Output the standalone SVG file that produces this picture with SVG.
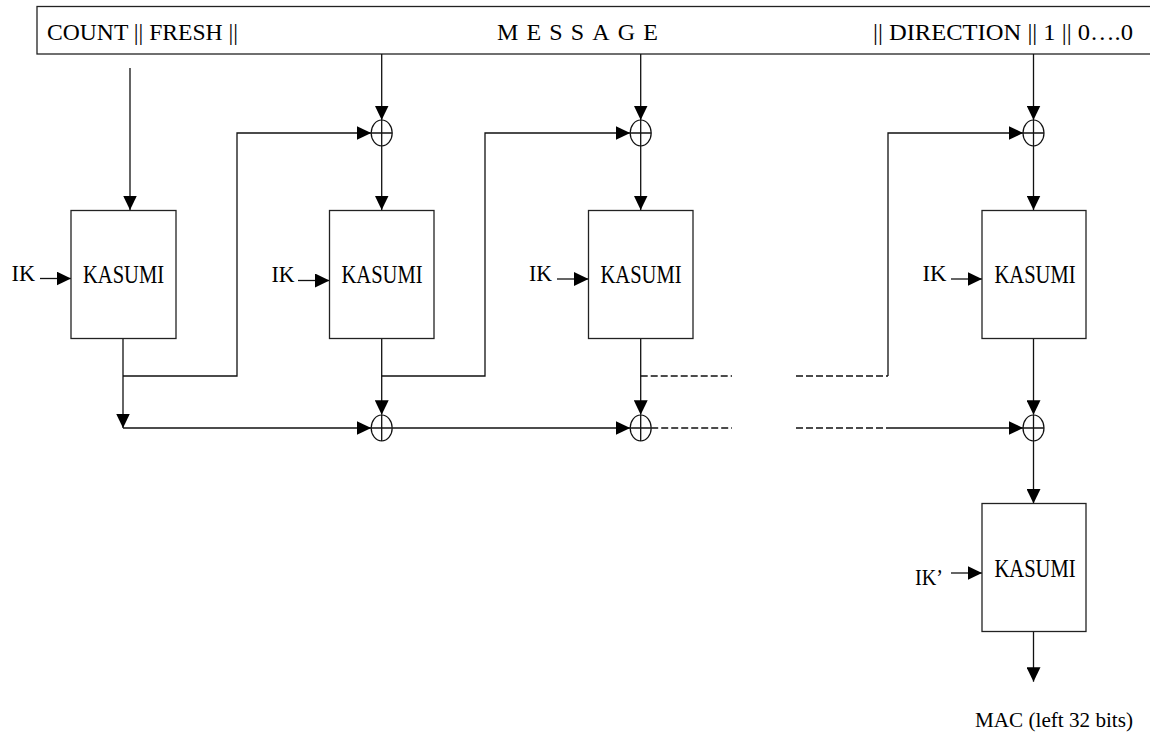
<svg xmlns="http://www.w3.org/2000/svg" width="1150" height="738" viewBox="0 0 1150 738">
<style>
text{font-family:"Liberation Serif","Times New Roman",serif;fill:#000}
.box{fill:#fff;stroke:#222;stroke-width:1.3}
.lbl{font-size:24px}
.k{font-size:25px;text-anchor:middle}
.c{fill:none;stroke:#111;stroke-width:1.3}
.d{fill:none;stroke:#111;stroke-width:1.3;stroke-dasharray:7 3}
.x{fill:#fff;stroke:#111;stroke-width:1.2}
</style>
<defs>
<marker id="ah" markerUnits="userSpaceOnUse" markerWidth="15" markerHeight="14" refX="14.5" refY="7" orient="auto">
<path d="M0,0 L14.5,7 L0,14 z" fill="#000"/>
</marker>
</defs>
<rect width="1150" height="738" fill="#fff"/>
<g id="header">
<rect class="box" x="37" y="6.5" width="1125" height="47.5" fill="#fff"/>
<text class="lbl" x="47" y="40" textLength="191" lengthAdjust="spacingAndGlyphs">COUNT || FRESH ||</text>
<text class="lbl" x="497" y="40" textLength="161" lengthAdjust="spacing">MESSAGE</text>
<text class="lbl" x="873" y="40" textLength="260" lengthAdjust="spacingAndGlyphs">|| DIRECTION || 1 || 0….0</text>
</g>
<g id="connectors">
<path class="c" d="M130,68 V210" marker-end="url(#ah)"/>
<path class="c" d="M381.7,54 V120" marker-end="url(#ah)"/>
<path class="c" d="M640.7,54 V120" marker-end="url(#ah)"/>
<path class="c" d="M1033.5,54 V120" marker-end="url(#ah)"/>
<path class="c" d="M381.7,146 V210" marker-end="url(#ah)"/>
<path class="c" d="M640.7,146 V210" marker-end="url(#ah)"/>
<path class="c" d="M1033.5,146 V210" marker-end="url(#ah)"/>
<path class="c" d="M123,338 V428" marker-end="url(#ah)"/>
<path class="c" d="M123,376 H237 V133 H371.2" marker-end="url(#ah)"/>
<path class="c" d="M123,428 H371.2" marker-end="url(#ah)"/>
<path class="c" d="M381.7,338 V414.7" marker-end="url(#ah)"/>
<path class="c" d="M381.7,376 H485 V133 H630.2" marker-end="url(#ah)"/>
<path class="c" d="M392.2,428 H630.2" marker-end="url(#ah)"/>
<path class="c" d="M640.7,338 V414.7" marker-end="url(#ah)"/>
<path class="d" d="M640.7,376 H732"/>
<path class="d" d="M796,376 H888"/>
<path class="c" d="M888,376 V133 H1023" marker-end="url(#ah)"/>
<path class="d" d="M651.2,428 H732"/>
<path class="d" d="M796,428 H888"/>
<path class="c" d="M888,428 H1023" marker-end="url(#ah)"/>
<path class="c" d="M1033.5,338 V414.7" marker-end="url(#ah)"/>
<path class="c" d="M1033.5,441 V503.5" marker-end="url(#ah)"/>
<path class="c" d="M1033.5,631.7 V681.7" marker-end="url(#ah)"/>
<path class="c" d="M40,278.5 H71" marker-end="url(#ah)"/>
<path class="c" d="M298,280.5 H329.5" marker-end="url(#ah)"/>
<path class="c" d="M557,279 H588.5" marker-end="url(#ah)"/>
<path class="c" d="M951,279 H982" marker-end="url(#ah)"/>
<path class="c" d="M951,573 H982" marker-end="url(#ah)"/>
</g>
<g id="xor1"><ellipse class="x" cx="381.7" cy="133" rx="10.5" ry="13"/><path class="c" d="M371.2,133 H392.2 M381.7,120 V146"/></g>
<g id="xor2"><ellipse class="x" cx="640.7" cy="133" rx="10.5" ry="13"/><path class="c" d="M630.2,133 H651.2 M640.7,120 V146"/></g>
<g id="xor3"><ellipse class="x" cx="1033.5" cy="133" rx="10.5" ry="13"/><path class="c" d="M1023,133 H1044 M1033.5,120 V146"/></g>
<g id="xor4"><ellipse class="x" cx="381.7" cy="428" rx="10.5" ry="13"/><path class="c" d="M371.2,428 H392.2 M381.7,415 V441"/></g>
<g id="xor5"><ellipse class="x" cx="640.7" cy="428" rx="10.5" ry="13"/><path class="c" d="M630.2,428 H651.2 M640.7,415 V441"/></g>
<g id="xor6"><ellipse class="x" cx="1033.5" cy="428" rx="10.5" ry="13"/><path class="c" d="M1023,428 H1044 M1033.5,415 V441"/></g>
<g id="kasumi1"><rect class="box" x="71" y="210.5" width="105" height="128"/><text class="k" x="123.5" y="282.5" textLength="81" lengthAdjust="spacingAndGlyphs">KASUMI</text></g>
<g id="kasumi2"><rect class="box" x="329.5" y="210.5" width="104.5" height="128"/><text class="k" x="382" y="282.5" textLength="81" lengthAdjust="spacingAndGlyphs">KASUMI</text></g>
<g id="kasumi3"><rect class="box" x="588.5" y="210.5" width="104.5" height="128"/><text class="k" x="641" y="282.5" textLength="81" lengthAdjust="spacingAndGlyphs">KASUMI</text></g>
<g id="kasumi4"><rect class="box" x="982" y="210.5" width="104" height="128"/><text class="k" x="1035" y="282.5" textLength="81" lengthAdjust="spacingAndGlyphs">KASUMI</text></g>
<g id="kasumi5"><rect class="box" x="982" y="503.5" width="104" height="128"/><text class="k" x="1035" y="577" textLength="81" lengthAdjust="spacingAndGlyphs">KASUMI</text></g>
<g id="ik1"><text class="lbl" x="11.5" y="281" textLength="23.5" lengthAdjust="spacingAndGlyphs">IK</text></g>
<g id="ik2"><text class="lbl" x="271.5" y="282" textLength="23" lengthAdjust="spacingAndGlyphs">IK</text></g>
<g id="ik3"><text class="lbl" x="529" y="281" textLength="23" lengthAdjust="spacingAndGlyphs">IK</text></g>
<g id="ik4"><text class="lbl" x="922.5" y="281" textLength="24" lengthAdjust="spacingAndGlyphs">IK</text></g>
<g id="ik5"><text class="lbl" x="915" y="585" textLength="28" lengthAdjust="spacingAndGlyphs">IK’</text></g>
<g id="mac"><text x="975" y="727" style="font-size:21px" textLength="158" lengthAdjust="spacingAndGlyphs">MAC  (left 32 bits)</text></g>
</svg>
